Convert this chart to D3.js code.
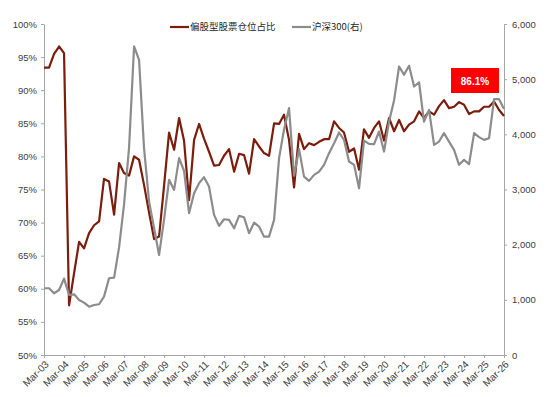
<!DOCTYPE html>
<html>
<head>
<meta charset="utf-8">
<script src="https://cdn.jsdelivr.net/npm/d3@7"></script>
<style>
	body { margin: 0; background: #fff; }
	svg { display: block; font-family: 'Liberation Sans', Arial, sans-serif; }
	.axis path, .axis line { stroke: #a6a6a6; }
	.axis text { fill: #404040; font-size: 9.5px; }
	.legend text { fill: #262626; font-size: 9.5px; font-family: 'Noto Sans CJK SC', 'Liberation Sans', sans-serif; }
</style>
</head>
<body>
<div id="chart"></div>
<script>
// quarterly data, first quarter end Mar-03, last Mar-26
const equityShare = [
	93.4, 93.4, 95.5, 96.6, 95.6, 57.5, 62.4, 67.1, 66.1, 68.4, 69.6, 70.2,
	76.6, 76.2, 71.2, 79.0, 77.5, 77.1, 80.0, 79.5, 75.7, 71.5, 67.5, 67.9,
	75.5, 83.6, 81.0, 85.8, 82.4, 73.4, 82.5, 84.9, 82.7, 80.7, 78.6, 78.7,
	80.1, 81.1, 77.7, 80.4, 80.2, 77.4, 82.6, 81.5, 80.5, 80.1, 85.0, 84.9,
	86.3, 82.5, 75.3, 83.4, 81.1, 82.0, 81.7, 82.2, 82.6, 82.6, 85.3, 84.3,
	83.6, 80.7, 81.2, 78.0, 84.1, 82.8, 84.3, 85.3, 82.4, 85.8, 83.8, 85.5,
	83.8, 84.8, 85.3, 86.8, 85.8, 86.8, 86.3, 87.6, 88.5, 87.3, 87.5, 88.2,
	87.8, 86.4, 86.8, 86.8, 87.5, 87.5, 88.3, 87.0, 86.1
];
const csi300 = [
	1210, 1210, 1119, 1179, 1385, 1090, 1100, 998, 949, 876, 907, 920,
	1058, 1391, 1402, 1950, 2721, 3749, 5593, 5351, 3749, 2781, 2298, 1814,
	2449, 3175, 2993, 3568, 3340, 2570, 2933, 3115, 3223, 3053, 2540, 2340,
	2461, 2449, 2298, 2522, 2498, 2208, 2400, 2328, 2146, 2146, 2449, 3568,
	4082, 4475, 3250, 3731, 3234, 3156, 3265, 3325, 3447, 3659, 3840, 4033,
	3900, 3507, 3447, 3024, 3887, 3828, 3822, 4051, 3688, 4232, 4620, 5230,
	5079, 5242, 4867, 4940, 4232, 4444, 3809, 3869, 4021, 3869, 3719, 3447,
	3537, 3459, 4021, 3949, 3900, 3930, 4638, 4638, 4460
];
const leftTicks = [50, 55, 60, 65, 70, 75, 80, 85, 90, 95, 100];
const rightTicks = [0, 1000, 2000, 3000, 4000, 5000, 6000];
const seriesNames = ['偏股型股票仓位占比', '沪深300(右)'];
const latestLabel = '86.1%';

const colorShare = '#7b1c0c';
const colorIndex = '#8c8c8c';

// dimension stuff
const width = 550;
const height = 397;
const marginTop = 24;
const marginBottom = 42;
const marginLeft = 44;
const marginRight = 46;

const quarters = equityShare.map((d, i) => d3.timeMonth.offset(new Date(2003, 2, 1), i * 3));
const rows = quarters.map((q, i) => ({ date: q, share: equityShare[i], index: csi300[i] }));

// scales
const scaleX = d3.scaleTime()
	.domain([quarters[0], quarters[quarters.length - 1]])
	.range([marginLeft, width - marginRight]);
const scaleY = d3.scaleLinear()
	.domain([50, 100])
	.range([height - marginBottom, marginTop]);
const scaleY2 = d3.scaleLinear()
	.domain([0, 6000])
	.range([height - marginBottom, marginTop]);

const $svg = d3.select('#chart').append('svg')
	.attr('width', width)
	.attr('height', height);

// axes
const yearTicks = quarters.filter((d, i) => i % 4 === 0);

const $xAxis = $svg.append('g')
	.attr('class', 'axis x')
	.attr('transform', `translate(0,${height - marginBottom})`)
	.call(d3.axisBottom(scaleX)
		.tickValues(yearTicks)
		.tickFormat(d3.timeFormat('%b-%y'))
		.tickSize(3)
		.tickSizeOuter(0));

$xAxis.selectAll('text')
	.attr('text-anchor', 'end')
	.attr('dx', '-3.5')
	.attr('dy', '4.6')
	.attr('transform', 'rotate(-45)')
	.style('font-size', '10px');

$svg.append('g')
	.attr('class', 'axis y')
	.attr('transform', `translate(${marginLeft},0)`)
	.call(d3.axisLeft(scaleY)
		.tickValues(leftTicks)
		.tickFormat(d => d + '%')
		.tickSize(3)
		.tickPadding(4)
		.tickSizeOuter(0));

$svg.append('g')
	.attr('class', 'axis y2')
	.attr('transform', `translate(${width - marginRight},0)`)
	.call(d3.axisRight(scaleY2)
		.tickValues(rightTicks)
		.tickFormat(d3.format(','))
		.tickSize(3)
		.tickPadding(5)
		.tickSizeOuter(0));

// lines
const lineShare = d3.line()
	.x(d => scaleX(d.date))
	.y(d => scaleY(d.share));
const lineIndex = d3.line()
	.x(d => scaleX(d.date))
	.y(d => scaleY2(d.index));

$svg.append('path')
	.datum(rows)
	.attr('fill', 'none')
	.attr('stroke', colorShare)
	.attr('stroke-width', 2.2)
	.attr('stroke-linejoin', 'round')
	.attr('d', lineShare);

$svg.append('path')
	.datum(rows)
	.attr('fill', 'none')
	.attr('stroke', colorIndex)
	.attr('stroke-width', 2.2)
	.attr('stroke-linejoin', 'round')
	.attr('d', lineIndex);

// legend
const $legend = $svg.append('g').attr('class', 'legend');
const legendItems = [
	{ name: seriesNames[0], color: colorShare, x: 170 },
	{ name: seriesNames[1], color: colorIndex, x: 292 }
];
legendItems.forEach(item => {
	$legend.append('line')
		.attr('x1', item.x).attr('x2', item.x + 19)
		.attr('y1', 27).attr('y2', 27)
		.attr('stroke', item.color)
		.attr('stroke-width', 2.2);
	$legend.append('text')
		.attr('x', item.x + 20)
		.attr('y', 27)
		.attr('dy', '0.35em')
		.text(item.name);
});

// latest value tag
const $tag = $svg.append('g');
$tag.append('rect')
	.attr('x', 451).attr('y', 68)
	.attr('width', 48).attr('height', 25)
	.attr('fill', '#ff0000');
$tag.append('text')
	.attr('x', 475).attr('y', 81)
	.attr('dy', '0.35em')
	.attr('text-anchor', 'middle')
	.attr('fill', '#fff')
	.style('font-size', '10px')
	.style('font-weight', 'bold')
	.text(latestLabel);
</script>
</body>
</html>
